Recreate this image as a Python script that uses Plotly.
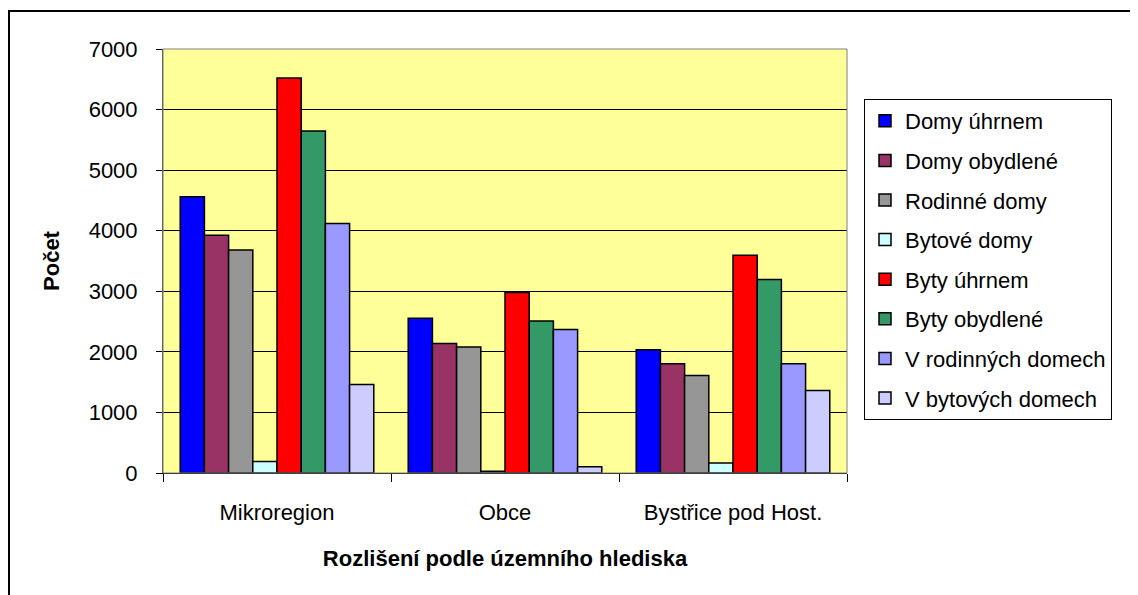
import plotly.graph_objects as go

categories = ["Mikroregion", "Obce", "Bystřice pod Host."]

series_names = [
    "Domy úhrnem",
    "Domy obydlené",
    "Rodinné domy",
    "Bytové domy",
    "Byty úhrnem",
    "Byty obydlené",
    "V rodinných domech",
    "V bytových domech",
]

domy_uhrnem = [4560, 2555, 2035]
domy_obydlene = [3925, 2140, 1805]
rodinne_domy = [3680, 2080, 1610]
bytove_domy = [190, 30, 165]
byty_uhrnem = [6520, 2980, 3595]
byty_obydlene = [5645, 2510, 3195]
v_rodinnych = [4120, 2370, 1805]
v_bytovych = [1460, 105, 1360]

series_values = [domy_uhrnem, domy_obydlene, rodinne_domy, bytove_domy,
                 byty_uhrnem, byty_obydlene, v_rodinnych, v_bytovych]

colors = ["#0000FF", "#993366", "#969696", "#CCFFFF",
          "#FF0000", "#339966", "#9999FF", "#CCCCFF"]

y_ticks = [0, 1000, 2000, 3000, 4000, 5000, 6000, 7000]

FONT = "Liberation Sans, Arial, sans-serif"
FS = 22

fig = go.Figure()
for i, (name, vals, col) in enumerate(zip(series_names, series_values, colors)):
    fig.add_trace(go.Bar(
        x=categories, y=vals, name=name,
        marker=dict(color=col, line=dict(color="#000000", width=1.5)),
        legendgroup=f"g{i}",
    ))

# page has an 8px body margin, so the figure is drawn 8px right/down
OFF = 8
W, H = 1138 - OFF, 595 - OFF
L, T = 163 - OFF, 49 - OFF
pw, ph = 684, 424
R = W - L - pw
B = H - T - ph

fig.update_layout(
    width=W, height=H,
    margin=dict(l=L, r=R, t=T, b=B, pad=0),
    paper_bgcolor="#FFFFFF",
    plot_bgcolor="#FFFF99",
    barmode="group",
    bargap=0.151,
    bargroupgap=0,
    font=dict(family=FONT, size=FS, color="#000000"),
    showlegend=True,
    legend=dict(
        x=(864 - 163) / pw, xanchor="left",
        y=(473 - 99) / ph, yanchor="top",
        bgcolor="#FFFFFF",
        bordercolor="#000000", borderwidth=1,
        font=dict(family=FONT, size=FS, color="#000000"),
        tracegroupgap=8,
        traceorder="grouped",
        itemclick=False,
    ),
    xaxis=dict(
        type="category",
        showline=True, linecolor="#000000", linewidth=1,
        ticks="outside", ticklen=8, tickcolor="#000000",
        tickson="boundaries",
        showgrid=False,
        ticklabelstandoff=20,
        tickfont=dict(family=FONT, size=FS),
        title=dict(text="<b>Rozlišení podle územního hlediska</b>",
                   font=dict(family=FONT, size=FS), standoff=26),
    ),
    yaxis=dict(
        range=[0, 7000],
        tickvals=y_ticks,
        ticktext=[str(v) for v in y_ticks],
        showline=True, linecolor="#404040", linewidth=1,
        ticks="outside", ticklen=6, tickcolor="#000000",
        showgrid=True, gridcolor="#000000", gridwidth=1,
        zeroline=False,
        ticklabelstandoff=14,
        tickfont=dict(family=FONT, size=FS),
        title=dict(text="<b>Počet</b>", font=dict(family=FONT, size=FS), standoff=22),
    ),
)

# plot-area border (gray) and outer chart border (black)
fig.add_shape(type="rect", xref="paper", yref="paper", x0=0, x1=1, y0=0, y1=1,
              line=dict(color="#808080", width=1), fillcolor="rgba(0,0,0,0)", layer="above")
fig.add_shape(type="rect", xref="paper", yref="paper",
              x0=(1 - L) / pw, x1=(W + 20 - L) / pw,
              y0=(T + ph - 3) / ph, y1=-(B + 20) / ph,
              line=dict(color="#000000", width=2), fillcolor="rgba(0,0,0,0)", layer="above")

fig.write_html("out.html")
